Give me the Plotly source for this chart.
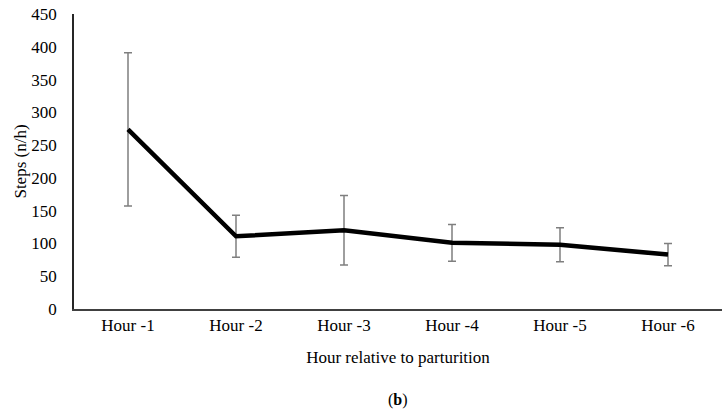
import plotly.graph_objects as go

categories = ["Hour -1", "Hour -2", "Hour -3", "Hour -4", "Hour -5", "Hour -6"]
steps = [274, 111, 120, 101, 98, 83]
errors = [117, 32, 53, 28, 26, 17]

fig = go.Figure()
fig.add_trace(go.Scatter(
    x=categories, y=steps, mode="lines",
    line=dict(color="black", width=4.5),
    error_y=dict(type="data", array=errors, visible=True,
                 color="#7f7f7f", thickness=1.5, width=4),
    showlegend=False, hoverinfo="skip",
))

font = "Liberation Serif, serif"
W, H = 727, 420
L, R, T, B = 74, 5, 14, 111
fig.update_layout(
    width=W, height=H,
    margin=dict(l=L, r=R, t=T, b=B),
    paper_bgcolor="white", plot_bgcolor="white",
    font=dict(family=font, size=17, color="black"),
    xaxis=dict(type="category", showgrid=False, showline=True,
               linecolor="#404040", linewidth=2, ticks="",
               tickfont=dict(family=font, size=17), range=[-0.5, 5.5],
               title=dict(text="Hour relative to parturition", font=dict(family=font, size=17), standoff=17)),
    yaxis=dict(range=[0, 450], dtick=50, showgrid=False, showline=True,
               linecolor="#262626", linewidth=1.5, ticks="", zeroline=False,
               tickfont=dict(family=font, size=17), ticklabelstandoff=12,
               title=dict(text="Steps (n/h)", font=dict(family=font, size=17), standoff=0)),
)
ph = H - T - B
fig.add_annotation(text="(<b>b</b>)", x=0.5, y=-(400 - (H - B)) / ph,
                   xref="paper", yref="paper", yanchor="middle",
                   showarrow=False, font=dict(family=font, size=16))

fig.write_html("out.html", config={"displayModeBar": False},
               post_script="document.body.style.margin='0';")
